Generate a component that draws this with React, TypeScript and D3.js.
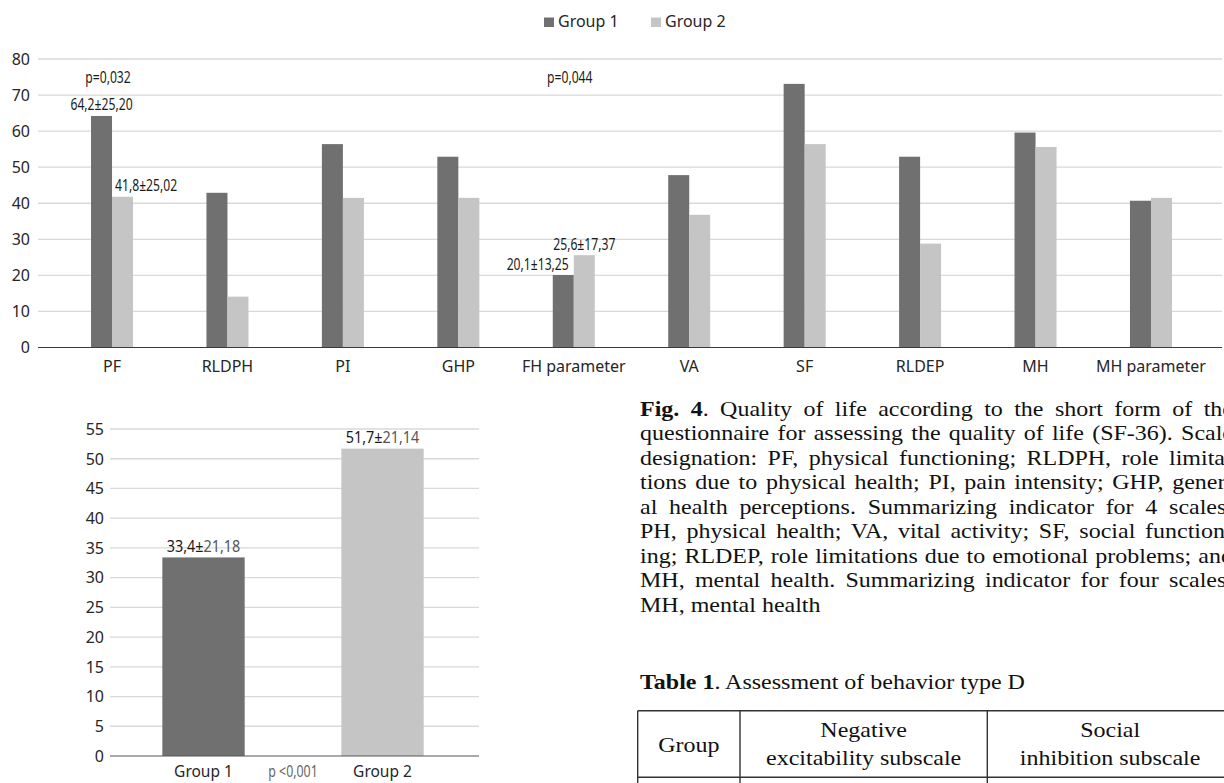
import React, { useLayoutEffect, useRef } from "react";
import * as d3 from "d3";

// ---------- data ----------
const categories = ["PF", "RLDPH", "PI", "GHP", "FH parameter", "VA", "SF", "RLDEP", "MH", "MH parameter"];
const group1 = [64.2, 42.9, 56.4, 52.9, 20.1, 47.8, 73.1, 52.9, 59.6, 40.7];
const group2 = [41.8, 14.1, 41.5, 41.5, 25.6, 36.8, 56.4, 28.8, 55.6, 41.5];
const seriesNames = ["Group 1", "Group 2"];
const topTicks = [0, 10, 20, 30, 40, 50, 60, 70, 80];
const topValueLabels = [
  { category: "PF", series: 0, text: "64,2±25,20" },
  { category: "PF", series: 1, text: "41,8±25,02" },
  { category: "FH parameter", series: 0, text: "20,1±13,25" },
  { category: "FH parameter", series: 1, text: "25,6±17,37" },
];
const topPValues = [
  { category: "PF", text: "p=0,032" },
  { category: "FH parameter", text: "p=0,044" },
];

const summaryCategories = ["Group 1", "Group 2"];
const summaryMeans = [33.4, 51.7];
const summaryMeanText = ["33,4±", "51,7±"];
const summarySD = ["21,18", "21,14"];
const summaryP = "p <0,001";
const bottomTicks = [0, 5, 10, 15, 20, 25, 30, 35, 40, 45, 50, 55];

const captionLines = [
  { bold: "Fig. 4", text: ". Quality of life according to the short form of the", justify: true },
  { bold: "", text: "questionnaire for assessing the quality of life (SF-36). Scale", justify: true },
  { bold: "", text: "designation: PF, physical functioning; RLDPH, role limita-", justify: true },
  { bold: "", text: "tions due to physical health; PI, pain intensity; GHP, gener-", justify: true },
  { bold: "", text: "al health perceptions. Summarizing indicator for 4 scales:", justify: true },
  { bold: "", text: "PH, physical health; VA, vital activity; SF, social function-", justify: true },
  { bold: "", text: "ing; RLDEP, role limitations due to emotional problems; and", justify: true },
  { bold: "", text: "MH, mental health. Summarizing indicator for four scales:", justify: true },
  { bold: "", text: "MH, mental health", justify: false },
];
const tableTitleBold = "Table 1";
const tableTitleRest = ". Assessment of behavior type D";
const tableHeaders = [["Group"], ["Negative", "excitability subscale"], ["Social", "inhibition subscale"]];

// ---------- styles ----------
const COLORS = ["#707070", "#c5c5c5"];
const SANS = "'Noto Sans', 'Open Sans', sans-serif";
const SERIF = "'Liberation Serif', 'Times New Roman', serif";
const SX = 1.2;
const CAP_LEFT = 640;
const CAP_RIGHT = 1233;

function Cond({ x, y, anchor = "middle", sx = 0.76, size = 16, fill = "#1a1a1a", children }: any) {
  return (
    <text
      transform={`translate(${x},${y}) scale(${sx},1)`}
      textAnchor={anchor}
      fontFamily={SANS}
      fontSize={size}
      fill={fill}
    >
      {children}
    </text>
  );
}

function TopChart() {
  const x = d3.scaleBand().domain(categories).range([54.3, 1208.7]).paddingInner(0.636).paddingOuter(0.318);
  const xs = d3.scaleBand().domain(seriesNames).range([0, x.bandwidth()]);
  const y = d3.scaleLinear().domain([0, 80]).range([347.5, 59]);
  const series = [group1, group2];
  const barX = (c: string, s: number) => (x(c) as number) + (xs(seriesNames[s]) as number);
  const valOf = (c: string, s: number) => series[s][categories.indexOf(c)];
  return (
    <g>
      {topTicks.filter((t) => t !== 0).map((t) => (
        <line key={t} x1={38} x2={1222} y1={y(t)} y2={y(t)} stroke="#d9d9d9" strokeWidth={1.3} />
      ))}
      {topTicks.map((t) => (
        <text key={t} x={30} y={y(t) + 5.8} textAnchor="end" fontFamily={SANS} fontSize={16} fill="#262626">
          {t}
        </text>
      ))}
      {categories.map((c, i) =>
        series.map((vals, s) => (
          <rect
            key={c + s}
            x={barX(c, s)}
            y={y(vals[i])}
            width={xs.bandwidth()}
            height={y(0) - y(vals[i])}
            fill={COLORS[s]}
          />
        ))
      )}
      <line x1={38} x2={1222} y1={y(0)} y2={y(0)} stroke="#3a3a3a" strokeWidth={1.2} />
      {categories.map((c) => (
        <text
          key={c}
          x={(x(c) as number) + x.bandwidth() / 2}
          y={371.5}
          textAnchor="middle"
          fontFamily={SANS}
          fontSize={16}
          fill="#262626"
        >
          {c}
        </text>
      ))}
      {topValueLabels.map((l, i) => {
        const bx = barX(l.category, l.series);
        const by = y(valOf(l.category, l.series)) - 5.5;
        const w = xs.bandwidth();
        let ax = bx + w / 2;
        let anchor = "middle";
        if (i === 1) { ax = bx + 3; anchor = "start"; }
        if (i === 2) { ax = bx + w - 5; anchor = "end"; }
        return (
          <Cond key={i} x={ax} y={by} anchor={anchor}>
            {l.text}
          </Cond>
        );
      })}
      {topPValues.map((p) => (
        <Cond key={p.text} x={(x(p.category) as number) + x.bandwidth() / 2 - 4} y={82.5}>
          {p.text}
        </Cond>
      ))}
      {/* legend */}
      {seriesNames.map((s, i) => {
        const lx = [544, 651][i];
        return (
          <g key={s}>
            <rect x={lx} y={17.5} width={10} height={9.5} fill={COLORS[i]} />
            <text x={lx + 14} y={26.7} fontFamily={SANS} fontSize={16} fill="#262626">
              {s}
            </text>
          </g>
        );
      })}
    </g>
  );
}

function BottomChart() {
  const x = d3.scaleBand().domain(summaryCategories).range([114, 472]).paddingInner(0.54).paddingOuter(0.27);
  const y = d3.scaleLinear().domain([0, 55]).range([756, 429]);
  const mid = ((x(summaryCategories[0]) as number) + (x(summaryCategories[1]) as number) + x.bandwidth()) / 2;
  return (
    <g>
      {bottomTicks.filter((t) => t !== 0).map((t) => (
        <line key={t} x1={110} x2={479} y1={y(t)} y2={y(t)} stroke="#d9d9d9" strokeWidth={1.3} />
      ))}
      {bottomTicks.map((t) => (
        <text key={t} x={104} y={y(t) + 5.8} textAnchor="end" fontFamily={SANS} fontSize={16} fill="#262626">
          {t}
        </text>
      ))}
      {summaryCategories.map((c, i) => (
        <rect
          key={c}
          x={x(c)}
          y={y(summaryMeans[i])}
          width={x.bandwidth()}
          height={y(0) - y(summaryMeans[i])}
          fill={COLORS[i]}
        />
      ))}
      <line x1={110} x2={479} y1={y(0)} y2={y(0)} stroke="#555" strokeWidth={1.2} />
      {summaryCategories.map((c, i) => (
        <Cond key={c} x={(x(c) as number) + x.bandwidth() / 2} y={y(summaryMeans[i]) - 5.5} sx={0.9}>
          <tspan fill="#1a1a1a">{summaryMeanText[i]}</tspan>
          <tspan fill="#555">{summarySD[i]}</tspan>
        </Cond>
      ))}
      {summaryCategories.map((c) => (
        <text
          key={c}
          x={(x(c) as number) + x.bandwidth() / 2}
          y={776.5}
          textAnchor="middle"
          fontFamily={SANS}
          fontSize={15.5}
          fill="#262626"
        >
          {c}
        </text>
      ))}
      <Cond x={mid} y={776.5} sx={0.8} fill="#666" size={15.5}>
        {summaryP}
      </Cond>
    </g>
  );
}

function Caption() {
  const refs = useRef<(SVGTextElement | null)[]>([]);
  useLayoutEffect(() => {
    const apply = () => {
      refs.current.forEach((el, i) => {
        if (!el || !captionLines[i].justify) return;
        el.style.wordSpacing = "0px";
        const w = el.getComputedTextLength();
        const spaces = ((el.textContent || "").match(/ /g) || []).length;
        const target = (CAP_RIGHT - CAP_LEFT) / SX;
        if (spaces > 0) el.style.wordSpacing = (target - w) / spaces + "px";
      });
    };
    apply();
    const f = (document as any).fonts;
    if (f && f.ready) f.ready.then(apply);
  }, []);
  const base = 416;
  const lh = 24.45;
  const tableTop = 710.7;
  const tableHeadBottom = 777.3;
  const colX = [637.7, 740, 987.3, 1233];
  return (
    <g>
      {captionLines.map((l, i) => (
        <text
          key={i}
          ref={(el) => { refs.current[i] = el; }}
          transform={`translate(${CAP_LEFT},${base + i * lh}) scale(${SX},1)`}
          fontFamily={SERIF}
          fontSize={20}
          fill="#111"
          style={{ whiteSpace: "pre" }}
        >
          {l.bold ? <tspan fontWeight="bold">{l.bold}</tspan> : null}
          {l.text}
        </text>
      ))}
      <text transform={`translate(${CAP_LEFT},689) scale(${SX},1)`} fontFamily={SERIF} fontSize={20} fill="#111">
        <tspan fontWeight="bold">{tableTitleBold}</tspan>
        {tableTitleRest}
      </text>
      {/* table */}
      <line x1={colX[0]} x2={colX[3]} y1={tableTop} y2={tableTop} stroke="#333" strokeWidth={1.4} />
      <line x1={colX[0]} x2={colX[3]} y1={tableHeadBottom} y2={tableHeadBottom} stroke="#333" strokeWidth={1.4} />
      {colX.map((cx, i) => (
        <line key={i} x1={cx} x2={cx} y1={tableTop} y2={790} stroke="#333" strokeWidth={1.4} />
      ))}
      {tableHeaders.map((h, i) => {
        const cx = (colX[i] + colX[i + 1]) / 2;
        const ys = h.length === 1 ? [751.7] : [736.7, 765];
        return h.map((t, j) => (
          <text
            key={i + "-" + j}
            transform={`translate(${cx},${ys[j]}) scale(${SX},1)`}
            textAnchor="middle"
            fontFamily={SERIF}
            fontSize={20}
            fill="#111"
          >
            {t}
          </text>
        ));
      })}
    </g>
  );
}

export default function App() {
  return (
    <div style={{ position: "absolute", left: 0, top: 0, width: 1224, height: 783, overflow: "hidden", background: "#fff" }}>
      <svg width={1224} height={783} viewBox="0 0 1224 783" style={{ display: "block" }}>
        <rect x={0} y={0} width={1224} height={783} fill="#fff" />
        <TopChart />
        <BottomChart />
        <Caption />
      </svg>
    </div>
  );
}
